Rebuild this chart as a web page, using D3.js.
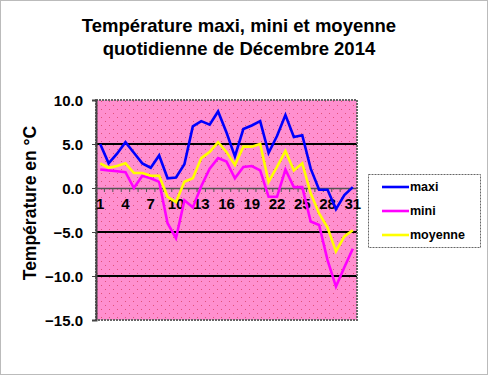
<!DOCTYPE html>
<html>
<head>
<meta charset="utf-8">
<script src="https://cdn.jsdelivr.net/npm/d3@7"></script>
<style>
  body { margin: 0; background: #fff; }
  svg { font-family: "Liberation Sans", Arial, sans-serif; }
</style>
</head>
<body>
<svg id="chart" width="488" height="375"></svg>
<script>
var days = d3.range(1, 32);
var dayLabels = [1, 4, 7, 10, 13, 16, 19, 22, 25, 28, 31];
var yTicks = [10, 5, 0, -5, -10, -15];
var maxi = [5.0, 2.8, 3.9, 5.2, 4.0, 2.8, 2.3, 3.7, 1.1, 1.2, 2.7, 7.0, 7.6, 7.2, 8.7, 6.3,
            3.6, 6.7, 7.1, 7.6, 4.0, 5.9, 8.3, 5.8, 6.0, 2.2, -0.2, -0.2, -2.4, -0.8, 0.1];
var mini = [2.1, 2.0, 1.9, 1.8, 0.0, 1.4, 1.1, 0.7, -4.0, -5.7, -1.4, -2.2, 0.2, 2.2, 3.4, 3.0,
            1.1, 2.4, 2.5, 2.0, -1.0, -1.0, 2.1, 0.1, 0.1, -3.8, -4.2, -8.2, -11.2, -9.0, -6.9];
var moyenne = [2.8, 2.3, 2.5, 2.8, 1.7, 1.7, 1.4, 1.4, -1.0, -1.6, 0.7, 1.1, 3.4, 4.1, 5.2, 4.1,
               2.6, 4.7, 4.7, 5.0, 0.7, 2.4, 4.2, 2.0, 2.8, -0.6, -2.9, -4.5, -7.2, -5.5, -4.8];
var seriesNames = ["maxi", "mini", "moyenne"];
var seriesColors = ["#0000ff", "#ff00ff", "#ffff00"];

var svg = d3.select("#chart");
var plot = {left: 96, right: 357, top: 100, bottom: 320};

// outer dotted frame
svg.append("rect")
   .attr("x", 0.5).attr("y", 0.5).attr("width", 487).attr("height", 374)
   .attr("fill", "#fff").attr("stroke", "#777").attr("stroke-dasharray", "1,1");

// title
svg.append("text").attr("x", 239).attr("y", 32).attr("text-anchor", "middle")
   .style("font-size", "18.5px").style("font-weight", "bold").text("Température maxi, mini et moyenne");
svg.append("text").attr("x", 239).attr("y", 55).attr("text-anchor", "middle")
   .style("font-size", "18.5px").style("font-weight", "bold").text("quotidienne de Décembre 2014");

var x = d3.scaleBand().domain(days).range([plot.left, plot.right]).padding(0);
var y = d3.scaleLinear().domain([-15, 10]).range([plot.bottom, plot.top]);

// pink dotted background
var defs = svg.append("defs");
var pat = defs.append("pattern").attr("id", "dots").attr("patternUnits", "userSpaceOnUse")
   .attr("width", 8).attr("height", 8);
pat.append("rect").attr("width", 8).attr("height", 8).attr("fill", "#ff8fcf");
pat.append("rect").attr("x", 1).attr("y", 1).attr("width", 1).attr("height", 1).attr("fill", "#e0507a");
pat.append("rect").attr("x", 5).attr("y", 5).attr("width", 1).attr("height", 1).attr("fill", "#e0507a");

svg.append("rect")
   .attr("x", plot.left).attr("y", plot.top)
   .attr("width", plot.right - plot.left).attr("height", plot.bottom - plot.top)
   .attr("fill", "url(#dots)");

// gridlines
svg.append("g").selectAll("line")
   .data(yTicks.filter(function(d) { return d != 10 && d != -15 && d != 0; }))
   .enter().append("line")
   .attr("x1", plot.left).attr("x2", plot.right)
   .attr("y1", function(d) { return y(d); }).attr("y2", function(d) { return y(d); })
   .attr("stroke", "#000").attr("stroke-width", 2);

// plot border
svg.append("rect")
   .attr("x", plot.left).attr("y", plot.top)
   .attr("width", plot.right - plot.left).attr("height", plot.bottom - plot.top)
   .attr("fill", "none").attr("stroke", "#666").attr("stroke-width", 2)
   .attr("stroke-dasharray", "2,1");

// y axis
var yAxis = d3.axisLeft(y).tickValues(yTicks).tickSize(4).tickFormat(d3.format(".1f"));
var gy = svg.append("g").attr("transform", "translate(" + plot.left + ",0)").call(yAxis);
gy.select(".domain").attr("stroke", "#444").attr("stroke-width", 2);
gy.selectAll(".tick line").attr("stroke", "#444");
gy.selectAll("text").attr("x", -13).attr("dy", "0.35em")
  .style("font-size", "15px").style("font-weight", "bold").attr("fill", "#000")
  .style("font-family", "Liberation Sans, Arial, sans-serif");

// x axis at 0
var xAxis = d3.axisBottom(x).tickSize(0).tickFormat(function(d) { return dayLabels.indexOf(d) >= 0 ? d : ""; });
var gx = svg.append("g").attr("transform", "translate(0," + y(0) + ")").call(xAxis);
gx.select(".domain").attr("stroke", "#555").attr("stroke-width", 1.5);
gx.selectAll("text").attr("y", 10).attr("dy", "0.71em")
  .style("font-size", "15px").style("font-weight", "bold").attr("fill", "#000")
  .style("font-family", "Liberation Sans, Arial, sans-serif");
gx.selectAll(".bnd").data(days).enter().append("line")
  .attr("x1", function(d) { return x(d); }).attr("x2", function(d) { return x(d); })
  .attr("y1", 0).attr("y2", 4).attr("stroke", "#555");

// series lines
var line = d3.line()
   .x(function(d, i) { return x(days[i]) + x.bandwidth() / 2; })
   .y(function(d) { return y(d); });
[maxi, mini, moyenne].forEach(function(s, k) {
  svg.append("path").datum(s)
     .attr("d", line).attr("fill", "none")
     .attr("stroke", seriesColors[k]).attr("stroke-width", 2.6)
     .attr("stroke-linejoin", "miter");
});

// y title
svg.append("text")
   .attr("transform", "translate(36,203) rotate(-90)")
   .attr("text-anchor", "middle")
   .style("font-size", "17.5px").style("font-weight", "bold")
   .text("Température en °C");

// legend
var lg = svg.append("g").attr("transform", "translate(368,174)");
lg.append("rect").attr("x", 0.5).attr("y", 0.5).attr("width", 112).attr("height", 73)
  .attr("fill", "#fff").attr("stroke", "#666").attr("stroke-dasharray", "2,1");
var item = lg.selectAll(".legend").data(seriesNames).enter().append("g")
  .attr("transform", function(d, i) { return "translate(0," + (13 + i * 24) + ")"; });
item.append("line").attr("x1", 14).attr("x2", 41).attr("y1", 0).attr("y2", 0)
  .attr("stroke", function(d, i) { return seriesColors[i]; }).attr("stroke-width", 2.6);
item.append("text").attr("x", 42).attr("dy", "0.35em")
  .style("font-size", "12.5px").style("font-weight", "bold").text(function(d) { return d; });
</script>
</body>
</html>
